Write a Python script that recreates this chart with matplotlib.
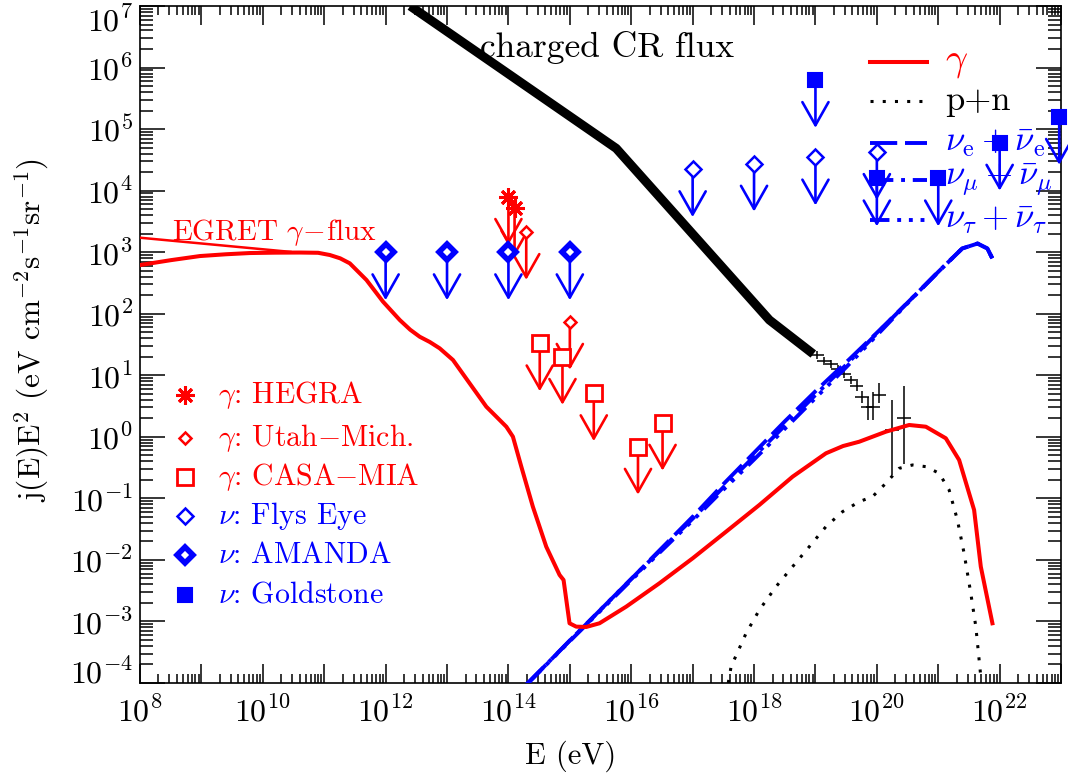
import numpy as np
import matplotlib
matplotlib.use('Agg')
import matplotlib.pyplot as plt
from matplotlib.ticker import LogLocator, FuncFormatter, NullFormatter, FixedLocator

plt.rcParams['font.family'] = ['cmr10', 'DejaVu Serif']
plt.rcParams['mathtext.fontset'] = 'cm'
plt.rcParams['axes.formatter.use_mathtext'] = True

#
#   values, stored as log10(E/eV) and log10(flux)
#
# charged cosmic ray flux (thick black)
cr_lgE = [12.40, 15.755, 18.25, 18.965]
cr_lgF = [7.00, 4.687, 1.898, 1.345]

# UHECR data points (black crosses)
pts_lgE = [19.03, 19.14, 19.26, 19.36, 19.47, 19.58, 19.67, 19.76, 19.85, 19.94, 20.04, 20.25, 20.44]
pts_lgF = [1.33, 1.23, 1.18, 1.10, 1.02, 0.92, 0.83, 0.65, 0.48, 0.48, 0.68, 0.11, 0.31]
pts_up = [0.06, 0.06, 0.06, 0.06, 0.06, 0.07, 0.08, 0.10, 0.16, 0.24, 0.20, 0.49, 0.51]
pts_dn = [0.06, 0.06, 0.06, 0.06, 0.06, 0.07, 0.08, 0.10, 0.21, 0.21, 0.13, 0.73, 0.76]

# gamma flux (thick red)
gam_lgE = [8.000, 8.50, 8.976, 9.40, 9.789, 10.20, 10.603, 10.90, 11.091, 11.26, 11.416,
           11.688, 11.958, 12.230, 12.40, 12.555, 12.72, 12.880, 13.097, 13.368, 13.640,
           13.80, 13.966, 14.073, 14.210, 14.398, 14.616, 14.833, 14.898, 14.995, 15.104,
           15.267, 15.483, 15.918, 16.459, 17.001, 17.544, 18.086, 18.628, 19.171, 19.45,
           19.713, 20.147, 20.526, 20.798, 21.123, 21.340, 21.584, 21.693, 21.882]
gam_lgF = [2.791, 2.870, 2.937, 2.966, 2.986, 2.992, 2.994, 2.990, 2.954, 2.900, 2.819,
           2.548, 2.195, 1.898, 1.740, 1.626, 1.540, 1.438, 1.248, 0.869, 0.489,
           0.330, 0.164, 0.002, -0.486, -1.136, -1.786, -2.245, -2.327, -3.030, -3.085,
           -3.090, -3.030, -2.760, -2.380, -1.974, -1.542, -1.108, -0.648, -0.268, -0.150,
           -0.080, 0.083, 0.192, 0.164, -0.024, -0.377, -1.189, -2.110, -3.030]

# EGRET gamma flux (thin red)
egret_lgE = [8.0, 10.45]
egret_lgF = [3.235, 3.005]

# nucleons p+n (black dotted)
pn_lgE = [17.58, 17.626, 17.870, 18.086, 18.358, 18.628, 18.900, 19.171, 19.441, 19.713,
          19.929, 20.147, 20.364, 20.580, 20.798, 21.015, 21.177, 21.312, 21.421, 21.530,
          21.612, 21.693]
pn_lgF = [-4.0, -3.735, -3.193, -2.814, -2.435, -2.110, -1.785, -1.460, -1.217, -1.054,
          -0.973, -0.755, -0.512, -0.458, -0.485, -0.593, -0.864, -1.352, -1.893, -2.543,
          -3.085, -3.898]

# neutrino fluxes (blue)
nu_lgE = [14.30, 15.0, 16.0, 17.0, 17.5, 18.0, 18.5, 19.0, 19.5, 20.0, 20.5, 21.0,
          21.39, 21.64, 21.80, 21.88]
nue_lgF = [-4.02, -3.31, -2.31, -1.30, -0.77, -0.26, 0.25, 0.74, 1.21, 1.69, 2.18, 2.68,
           3.06, 3.14, 3.06, 2.90]
numu_lgF = [-4.02, -3.31, -2.31, -1.33, -0.82, -0.32, 0.18, 0.68, 1.17, 1.68, 2.18, 2.68,
            3.06, 3.14, 3.06, 2.90]
nutau_lgF = [-4.02, -3.32, -2.33, -1.36, -0.86, -0.37, 0.13, 0.63, 1.13, 1.65, 2.17, 2.68,
             3.06, 3.14, 3.06, 2.90]

# upper limits
hegra_lgE = [14.0, 14.1]
hegra_lgF = [3.90, 3.71]
utah_lgE = [14.29, 15.0]
utah_lgF = [3.33, 1.87]
casa_lgE = [14.51, 14.88, 15.39, 16.11, 16.51]
casa_lgF = [1.52, 1.30, 0.71, -0.16, 0.23]
flys_lgE = [17.0, 18.0, 19.0, 20.0]
flys_lgF = [4.35, 4.44, 4.54, 4.63]
amanda_lgE = [12.0, 13.0, 14.0, 15.0]
amanda_lgF = [3.0, 3.0, 3.0, 3.0]
gold_lgE = [19.0, 20.0, 21.0, 22.0, 22.97]
gold_lgF = [5.80, 4.20, 4.20, 4.78, 5.20]

ARROW = 0.78  # arrow length in decades


def p10(a):
    return 10.0**np.array(a)


fig = plt.figure(figsize=(10.68, 7.8), dpi=100)
ax = fig.add_axes([0.1311, 0.1244, 0.8624, 0.8679])
ax.set_xscale('log')
ax.set_yscale('log')
ax.set_xlim(1e8, 1e23)
ax.set_ylim(1e-4, 1e7)

ax.plot(p10(cr_lgE), p10(cr_lgF), color='black', lw=6.5, solid_capstyle='butt', zorder=3)
ax.errorbar(p10(pts_lgE), p10(pts_lgF),
            xerr=[p10(pts_lgE) * (1 - 10**-0.11), p10(pts_lgE) * (10**0.11 - 1)],
            yerr=[p10(pts_lgF) * (1 - 10**-np.array(pts_dn)), p10(pts_lgF) * (10**np.array(pts_up) - 1)],
            fmt='none', ecolor='black', elinewidth=1.1, capsize=0, zorder=4)

ax.plot(p10(gam_lgE), p10(gam_lgF), color='red', lw=2.9, zorder=5)
ax.plot(p10(egret_lgE), p10(egret_lgF), color='red', lw=1.8, zorder=5)
ax.plot(p10(pn_lgE), p10(pn_lgF), color='black', lw=2.2, ls=(0, (1, 3)), zorder=4)

ax.plot(p10(nu_lgE), p10(nue_lgF), color='blue', lw=2.8, ls=(0, (7, 2)), zorder=4)
ax.plot(p10(nu_lgE), p10(numu_lgF), color='blue', lw=2.8, ls=(0, (6, 2, 1, 2)), zorder=4)
ax.plot(p10(nu_lgE), p10(nutau_lgF), color='blue', lw=2.8,
        ls=(0, (5, 2, 1, 2, 1, 2, 1, 2)), zorder=4)


def limits(lgE, lgF, color, **mk):
    for e, f in zip(lgE, lgF):
        ax.annotate('', xy=(10**e, 10**(f - ARROW)), xytext=(10**e, 10**f),
                    arrowprops=dict(arrowstyle='->,head_length=0.83,head_width=0.47',
                                    color=color, lw=1.9, shrinkA=0, shrinkB=0,
                                    mutation_scale=20),
                    zorder=6, annotation_clip=False)
    ax.plot(p10(lgE), p10(lgF), ls='none', color=color, zorder=7, clip_on=False, **mk)


mk_hegra = dict(marker=(8, 2, 0), ms=13, mew=2.2, mec='red')
mk_utah = dict(marker='D', ms=6.5, mfc='white', mec='red', mew=1.8)
mk_casa = dict(marker='s', ms=11, mfc='white', mec='red', mew=2.0)
mk_flys = dict(marker='D', ms=8, mfc='white', mec='blue', mew=1.8)
mk_amanda = dict(marker='D', ms=8.5, mfc='white', mec='blue', mew=4.0)
mk_gold = dict(marker='s', ms=10, mfc='blue', mec='blue', mew=1.5)

limits(hegra_lgE, hegra_lgF, 'red', **mk_hegra)
limits(utah_lgE, utah_lgF, 'red', **mk_utah)
limits(casa_lgE, casa_lgF, 'red', **mk_casa)
limits(flys_lgE, flys_lgF, 'blue', **mk_flys)
limits(amanda_lgE, amanda_lgF, 'blue', **mk_amanda)
limits(gold_lgE, gold_lgF, 'blue', **mk_gold)

# texts on the plot
ax.text(0.369, 0.939, 'charged CR flux', transform=ax.transAxes, fontsize=25.5,
        va='center', ha='left')
ax.text(0.035, 0.666, r'EGRET $\gamma\!-\!$flux', transform=ax.transAxes, fontsize=21,
        va='center', ha='left', color='red')

# legend, upper right
leg_y = [0.9173, 0.8597, 0.7976, 0.7430, 0.6839]
leg_txt = [r'$\gamma$', 'p+n', r'$\nu_{\rm e}+\bar{\nu}_{\rm e}$',
           r'$\nu_\mu+\bar{\nu}_\mu$', r'$\nu_\tau+\bar{\nu}_\tau$']
leg_col = ['red', 'black', 'blue', 'blue', 'blue']
leg_ls = ['-', (0, (1, 3)), (0, (7, 2)), (0, (6, 2, 1, 2)), (0, (5, 2, 1, 2, 1, 2, 1, 2))]
leg_lw = [2.9, 2.2, 2.8, 2.8, 2.8]
leg_fs = [28, 25, 25, 25, 25]
for y, t, c, s, w, f in zip(leg_y, leg_txt, leg_col, leg_ls, leg_lw, leg_fs):
    ax.plot([0.7926, 0.8545], [y, y], transform=ax.transAxes, color=c, ls=s, lw=w,
            clip_on=False, zorder=8)
    ax.text(0.874, y, t, transform=ax.transAxes, color=c, fontsize=f,
            va='center', ha='left', zorder=8)

# legend, lower left
ll_y = [0.4254, 0.3619, 0.3043, 0.2467, 0.1891, 0.1300]
ll_txt = [r'$\gamma$: HEGRA', r'$\gamma$: Utah$-$Mich.', r'$\gamma$: CASA$-$MIA',
          r'$\nu$: Flys Eye', r'$\nu$: AMANDA', r'$\nu$: Goldstone']
ll_col = ['red', 'red', 'red', 'blue', 'blue', 'blue']
ll_mk = [mk_hegra, mk_utah, mk_casa, mk_flys, mk_amanda, mk_gold]
for y, t, c, m in zip(ll_y, ll_txt, ll_col, ll_mk):
    ax.plot([0.0489], [y], transform=ax.transAxes, ls='none', color=c, **m)
    ax.text(0.0847, y, t, transform=ax.transAxes, color=c, fontsize=21.5,
            va='center', ha='left')

# axes styling
for sp in ax.spines.values():
    sp.set_linewidth(1.2)
ax.xaxis.set_major_locator(LogLocator(base=10, numticks=30))
ax.xaxis.set_minor_locator(LogLocator(base=10, subs=np.arange(2, 10), numticks=30))
ax.yaxis.set_major_locator(FixedLocator(10.0**np.arange(-4, 8)))
ax.yaxis.set_minor_locator(LogLocator(base=10, subs=np.arange(2, 10), numticks=30))


def xfmt(v, pos):
    n = int(round(np.log10(v)))
    return r'$10^{%d}$' % n if n % 2 == 0 else ''


ax.xaxis.set_major_formatter(FuncFormatter(xfmt))
ax.yaxis.set_major_formatter(FuncFormatter(lambda v, pos: r'$10^{%d}$' % int(round(np.log10(v)))))
ax.xaxis.set_minor_formatter(NullFormatter())
ax.yaxis.set_minor_formatter(NullFormatter())
ax.tick_params(which='both', direction='in', top=True, right=True, width=1.1)
ax.tick_params(axis='x', which='major', length=14, labelsize=23, pad=9)
ax.tick_params(axis='x', which='minor', length=6.5)
ax.tick_params(axis='y', which='major', length=18, labelsize=23, pad=5)
ax.tick_params(axis='y', which='minor', length=9.5)

# end labels of the y axis sit inside the frame, as in the original
yt = ax.yaxis.get_major_ticks()
yt[0].label1.set_verticalalignment('baseline')
yt[-1].label1.set_verticalalignment('top')

ax.set_xlabel('E (eV)', fontsize=22)
ax.xaxis.set_label_coords(0.467, -0.085)
ax.set_ylabel(r'j(E)E$^2$ (eV cm$^{-2}$s$^{-1}$sr$^{-1}$)', fontsize=22.5)
ax.yaxis.set_label_coords(-0.097, 0.521)

fig.savefig('out.png', dpi=100)
